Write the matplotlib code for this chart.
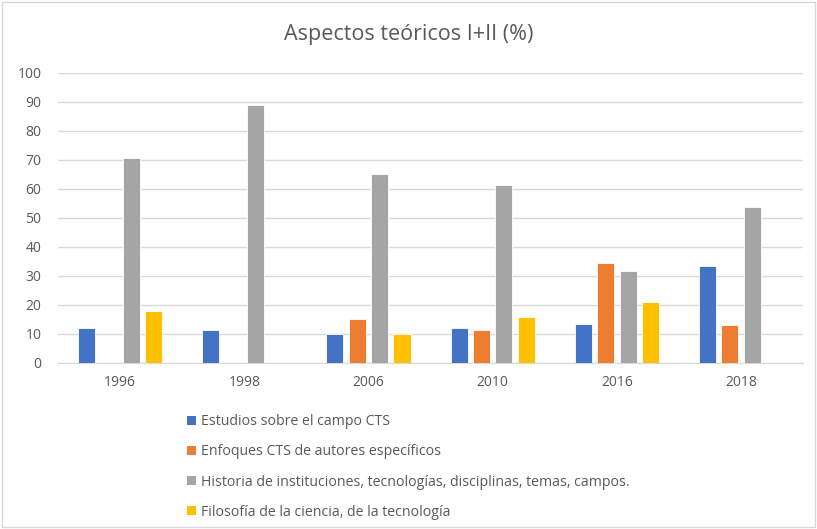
import numpy as np
import matplotlib.pyplot as plt
from matplotlib.patches import Rectangle, Patch

plt.rcParams['font.family'] = ['Open Sans', 'DejaVu Sans']

years = ['1996', '1998', '2006', '2010', '2016', '2018']
series_names = [
    'Estudios sobre el campo CTS',
    'Enfoques CTS de autores específicos',
    'Historia de instituciones, tecnologías, disciplinas, temas, campos.',
    'Filosofía de la ciencia, de la tecnología',
]
estudios = [11.9, 11.2, 10.0, 11.9, 13.3, 33.2]
enfoques = [np.nan, np.nan, 15.1, 11.2, 34.3, 13.0]
historia = [70.7, 88.8, 65.1, 61.3, 31.7, 53.6]
filosofia = [17.8, np.nan, 10.0, 15.6, 20.8, np.nan]
colors = ['#4472c4', '#ed7d31', '#a5a5a5', '#ffc000']

fig = plt.figure(figsize=(8.17, 5.29), dpi=100)
ax = fig.add_axes([0.071, 0.3144, 0.912, 0.5482])

x = np.arange(len(years))
slot = 0.18
width = 0.137
for i, (vals, c) in enumerate(zip([estudios, enfoques, historia, filosofia], colors)):
    ax.bar(x + (i - 1.5) * slot, vals, width, color=c, edgecolor='white', linewidth=0.6, zorder=3)

ax.set_xlim(-0.5, len(years) - 0.5)
ax.set_ylim(0, 100)
ax.set_yticks(range(0, 101, 10))
ax.set_xticks(x)
ax.set_xticklabels(years)
ax.grid(axis='y', color='#d9d9d9', linewidth=1.0, zorder=0)
for s in ['top', 'right', 'left']:
    ax.spines[s].set_visible(False)
ax.spines['bottom'].set_color('#d9d9d9')
ax.tick_params(axis='both', length=0, colors='#595959', labelsize=10)
ax.tick_params(axis='x', pad=9)
ax.tick_params(axis='y', pad=12)

fig.text(0.5, 0.934, 'Aspectos teóricos I+II (%)', ha='center', va='center',
         fontsize=15.5, color='#595959')

handles = [Patch(facecolor=c) for c in colors]
fig.legend(handles, series_names, loc='upper left', bbox_to_anchor=(0.222, 0.228),
           frameon=False, fontsize=10.2, labelcolor='#595959', handlelength=0.6,
           handleheight=0.6, handletextpad=0.4, labelspacing=1.08, borderaxespad=0)

fig.patches.append(Rectangle((0.002, 0.004), 0.996, 0.992, transform=fig.transFigure,
                             fill=False, edgecolor='#d9d9d9', linewidth=1))

fig.savefig('out.png', dpi=100)
